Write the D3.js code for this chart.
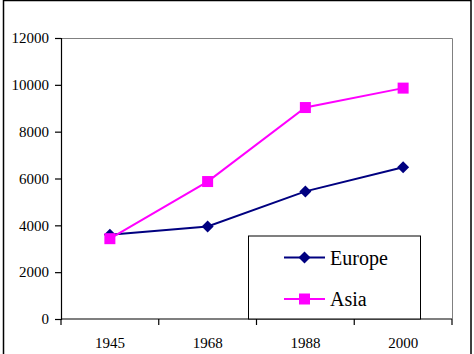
<!DOCTYPE html>
<html>
<head>
<meta charset="utf-8">
<script src="https://cdn.jsdelivr.net/npm/d3@7"></script>
<style>
  html, body { margin: 0; padding: 0; background: #fff; }
  svg { display: block; }
</style>
</head>
<body>
<svg id="chart" width="474" height="354" style="font-family:'Liberation Serif'"></svg>
<script>
const categories = ["1945", "1968", "1988", "2000"];
const europe = [3600, 3950, 5450, 6480];
const asia = [3430, 5870, 9030, 9860];
const yTicks = [0, 2000, 4000, 6000, 8000, 10000, 12000];
const seriesNames = ["Europe", "Asia"];

const FONT = "'Liberation Serif'";
const svg = d3.select("#chart");
const m = { left: 61, right: 452, top: 38, bottom: 319 };

// outer border
svg.append("rect").attr("x", 3.5).attr("y", 0.5).attr("width", 467.5).attr("height", 370)
  .attr("fill", "none").attr("stroke", "#000").attr("stroke-width", 1.5);

const x = d3.scaleBand().domain(categories).range([m.left, m.right]).padding(0);
const y = d3.scaleLinear().domain([0, 12000]).range([m.bottom, m.top]);

// plot area top/right border (gray)
svg.append("path")
  .attr("d", `M${m.left},${m.top + 0.5}H${m.right + 0.5}V${m.bottom}`)
  .attr("fill", "none").attr("stroke", "#808080").attr("stroke-width", 1);

// y axis
const yAxis = svg.append("g").attr("transform", `translate(${m.left},0)`)
  .call(d3.axisLeft(y).tickValues(yTicks).tickSize(6).tickPadding(6).tickFormat(d3.format("d")));
yAxis.attr("font-family", null).attr("font-size", null);
yAxis.selectAll("path, line").attr("stroke", "#000").attr("stroke-width", 1.2);
yAxis.selectAll("text").attr("style", `font-family:${FONT};font-size:15px`).attr("fill", "#000");

// x axis: ticks at band boundaries
const xAxisG = svg.append("g").attr("transform", `translate(0,${m.bottom})`);
xAxisG.append("line").attr("x1", m.left).attr("x2", m.right).attr("y1", 0).attr("y2", 0)
  .attr("stroke", "#000").attr("stroke-width", 1.2);
const bounds = categories.map(c => x(c)).concat([x(categories[categories.length - 1]) + x.bandwidth()]);
xAxisG.selectAll("line.tk").data(bounds).join("line").attr("class", "tk")
  .attr("x1", d => d).attr("x2", d => d).attr("y1", 0).attr("y2", 6)
  .attr("stroke", "#000").attr("stroke-width", 1.2);
xAxisG.selectAll("text").data(categories).join("text")
  .attr("x", d => x(d) + x.bandwidth() / 2).attr("y", 29)
  .attr("text-anchor", "middle").attr("style", `font-family:${FONT};font-size:15px`).text(d => d);

const cx = d => x(d) + x.bandwidth() / 2;
const line = d3.line().x((d, i) => cx(categories[i])).y(d => y(d));

const navy = "#000080", magenta = "#FF00FF";

function diamond(g, px, py, r, color) {
  g.append("path").attr("d", `M${px},${py - r}L${px + r},${py}L${px},${py + r}L${px - r},${py}Z`).attr("fill", color);
}
function square(g, px, py, s, color) {
  g.append("rect").attr("x", px - s / 2).attr("y", py - s / 2).attr("width", s).attr("height", s).attr("fill", color);
}

const gE = svg.append("g");
gE.append("path").datum(europe).attr("d", line).attr("fill", "none").attr("stroke", navy).attr("stroke-width", 2);
europe.forEach((v, i) => diamond(gE, cx(categories[i]), y(v), 6, navy));

const gA = svg.append("g");
gA.append("path").datum(asia).attr("d", line).attr("fill", "none").attr("stroke", magenta).attr("stroke-width", 2);
asia.forEach((v, i) => square(gA, cx(categories[i]), y(v), 11, magenta));

// legend
const lg = svg.append("g");
lg.append("rect").attr("x", 248.5).attr("y", 236).attr("width", 172).attr("height", 83)
  .attr("fill", "#fff").attr("stroke", "#000").attr("stroke-width", 1);
const items = [{ name: seriesNames[0], color: navy, yy: 257.5, type: "d" },
               { name: seriesNames[1], color: magenta, yy: 299, type: "s" }];
items.forEach(it => {
  lg.append("line").attr("x1", 284).attr("x2", 325).attr("y1", it.yy).attr("y2", it.yy)
    .attr("stroke", it.color).attr("stroke-width", 2);
  if (it.type === "d") diamond(lg, 304.5, it.yy, 6, it.color);
  else square(lg, 304.5, it.yy, 11, it.color);
  lg.append("text").attr("x", 330).attr("y", it.yy + 7)
    .attr("style", `font-family:${FONT};font-size:20px`).text(it.name);
});
</script>
</body>
</html>
